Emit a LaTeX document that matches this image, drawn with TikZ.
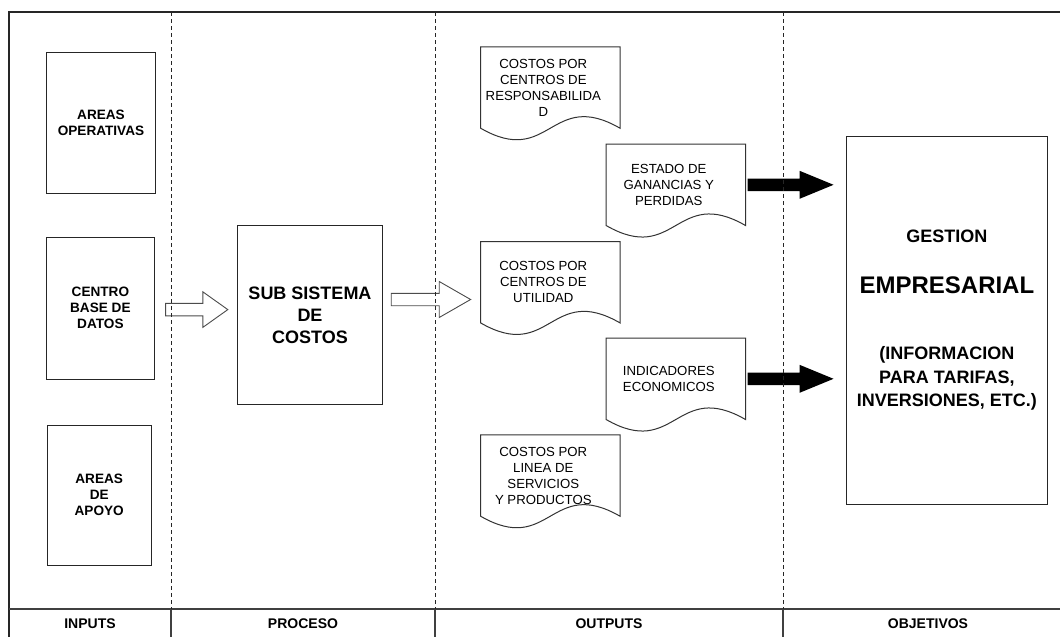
\documentclass[tikz,border=0pt]{standalone}
\usepackage{fontspec}
\setmainfont{Liberation Sans}
\usetikzlibrary{calc}
\begin{document}
\begin{tikzpicture}[x=1pt,y=-1pt,
  inbox/.style={draw=black!85, line width=1pt, inner sep=0pt, align=center, font=\fontsize{13.6}{16}\selectfont\bfseries},
  subbox/.style={draw=black!85, line width=1pt, inner sep=0pt, align=center, font=\fontsize{18}{22}\selectfont\bfseries},
  doctext/.style={inner sep=0pt, minimum width=125pt, minimum height=81pt, align=center, font=\fontsize{13.2}{16}\selectfont},
  docline/.style={draw=black!80, line width=1pt},
  hollow/.style={draw=black!70, line width=0.9pt},
  solidarrow/.style={fill=black},
  lanedash/.style={draw=black!85, line width=0.9pt, dash pattern=on 4pt off 3pt},
  frameline/.style={draw=black!85, line width=1.6pt},
  rowline/.style={draw=black!75, line width=1.1pt},
  lab/.style={inner sep=0pt, font=\fontsize{14}{16}\selectfont\bfseries}]
\useasboundingbox (0,0) rectangle (1060,637);
\fill[white] (0,0) rectangle (1060,637);

% frame
\draw[frameline] (9,637) -- (9,12) -- (1060,12);
\draw[rowline] (9,609) -- (1060,609);
\foreach \x in {171,435,783} {
  \draw[rowline] (\x,609) -- (\x,637);
}

% inputs
\node[inbox, minimum width=108.6pt, minimum height=141.4pt] (ao) at (101,123) {AREAS\\OPERATIVAS};
\node[inbox, minimum width=107.3pt, minimum height=141.7pt] (cbd) at (100.4,308.2) {CENTRO\\BASE DE\\DATOS};
\node[inbox, minimum width=104.3pt, minimum height=140.3pt] (apo) at (99.2,495.2) {AREAS\\DE\\APOYO};

% process
\node[subbox, minimum width=144.6pt, minimum height=178.3pt] (sub) at (310,314.9) {SUB SISTEMA\\DE\\COSTOS};

% documents (text node; outline drawn from its anchors)
\node[doctext] (d1) at (543.3,87.5) {\mbox{}\\[-6pt]COSTOS POR\\CENTROS DE\\RESPONSABILIDA\\D};
\node[doctext] (d2) at (668.8,184.8) {ESTADO DE\\GANANCIAS Y\\PERDIDAS};
\node[doctext] (d3) at (543.3,282.2) {COSTOS POR\\CENTROS DE\\UTILIDAD};
\node[doctext] (d4) at (668.8,378.8) {INDICADORES\\ECONOMICOS};
\node[doctext] (d5) at (543.3,475.5) {COSTOS POR\\LINEA DE\\SERVICIOS\\Y PRODUCTOS};
\foreach \d in {d1,d2,d3,d4,d5} {
  \draw[docline] (\d.south west) -- (\d.north west) -- ([xshift=14pt]\d.north east)
    -- ([xshift=14pt]\d.south east) .. controls +(-69.5,-40) and +(69.5,40) .. (\d.south west) -- cycle;
}

% objectives
\node[draw=black!85, line width=1pt, inner sep=0pt, align=center,
      minimum width=200.3pt, minimum height=367.3pt,
      font=\fontsize{18}{23.5}\selectfont\bfseries] (ges) at (946.9,320.4)
  {GESTION\\[27.6pt]{\fontsize{24}{23.5}\selectfont EMPRESARIAL}\\[42.4pt](INFORMACION\\PARA TARIFAS,\\INVERSIONES, ETC.)};

% hollow arrows
\coordinate (h1s) at ($(cbd.east)+(11,1.4)$);
\coordinate (h1t) at ($(sub.west |- h1s)+(-9.4,0)$);
\draw[hollow] ($(h1s)+(0,-6.3)$) -- ($(h1t)+(-25,-6.3)$) -- ($(h1t)+(-25,-17.8)$) -- (h1t)
  -- ($(h1t)+(-25,17.8)$) -- ($(h1t)+(-25,6.3)$) -- ($(h1s)+(0,6.3)$) -- cycle;
\coordinate (h2s) at ($(sub.east)+(8.4,-15.4)$);
\coordinate (h2t) at ($(d3.west |- h2s)+(-10,0)$);
\draw[hollow] ($(h2s)+(0,-6.2)$) -- ($(h2t)+(-31.4,-6.2)$) -- ($(h2t)+(-31.4,-18)$) -- (h2t)
  -- ($(h2t)+(-31.4,18)$) -- ($(h2t)+(-31.4,6.2)$) -- ($(h2s)+(0,6.2)$) -- cycle;

% solid arrows
\coordinate (a1s) at ($(d2.east)+(16,0)$);
\coordinate (a1t) at ($(ges.west |- a1s)+(-12.7,0)$);
\fill[solidarrow] ($(a1s)+(0,-6.2)$) -- ($(a1t)+(-34,-6.2)$) -- ($(a1t)+(-34,-14)$) -- (a1t)
  -- ($(a1t)+(-34,14)$) -- ($(a1t)+(-34,6.2)$) -- ($(a1s)+(0,6.2)$) -- cycle;
\coordinate (a2s) at ($(d4.east)+(16,0)$);
\coordinate (a2t) at ($(ges.west |- a2s)+(-12.7,0)$);
\fill[solidarrow] ($(a2s)+(0,-6.2)$) -- ($(a2t)+(-34,-6.2)$) -- ($(a2t)+(-34,-14)$) -- (a2t)
  -- ($(a2t)+(-34,14)$) -- ($(a2t)+(-34,6.2)$) -- ($(a2s)+(0,6.2)$) -- cycle;

% lane separators
\foreach \x in {171,435,783} {
  \draw[lanedash] (\x,12) -- (\x,609);
}

% lane labels
\node[lab] (linp) at (90,623.5) {INPUTS};
\node[lab] (lpro) at (303,623.5) {PROCESO};
\node[lab] (lout) at (609,623.5) {OUTPUTS};
\node[lab] (lobj) at (928,623.5) {OBJETIVOS};
\end{tikzpicture}
\end{document}
